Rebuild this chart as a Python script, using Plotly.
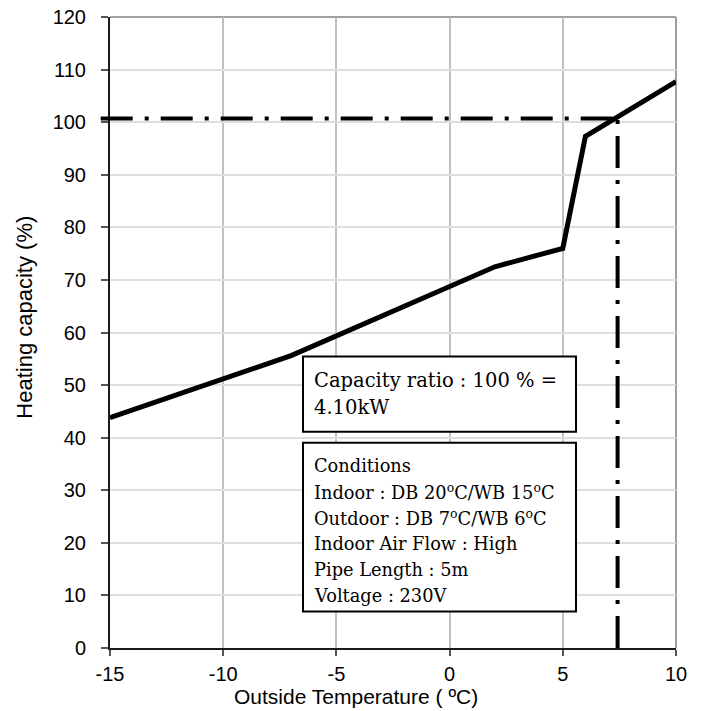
import plotly.graph_objects as go

# ---- data ----
TEMPS = [-15, -7, 2, 5, 6, 10]
CAPS = [43.8, 55.6, 72.5, 76.0, 97.3, 107.7]
REF_TEMP = 7.42
REF_CAP = 100.7
X_TICKS = [-15, -10, -5, 0, 5, 10]
Y_TICKS = [0, 10, 20, 30, 40, 50, 60, 70, 80, 90, 100, 110, 120]
BOX1_LINES = ["Capacity ratio : 100 % =", "4.10kW"]
BOX2_LINES = [
    "Conditions",
    "Indoor : DB 20<sup>o</sup>C/WB 15<sup>o</sup>C",
    "Outdoor : DB 7<sup>o</sup>C/WB 6<sup>o</sup>C",
    "Indoor Air Flow : High",
    "Pipe Length : 5m",
    "Voltage : 230V",
]
X_TITLE = "Outside Temperature ( ºC)"
Y_TITLE = "Heating capacity (%)"

# ---- layout geometry ----
W, H = 707, 711
L, R, T, B = 110, 676, 17.3, 648.3


def px(x):
    return (x - L) / (R - L)


def py(y):
    return (B - y) / (B - T)


DASHDOT = "32px,12px,4px,12px"
SERIF = "DejaVu Serif"
SANS = "Liberation Sans, Arial, sans-serif"

fig = go.Figure()

# vertical reference line (from the axis up to the curve)
fig.add_trace(go.Scatter(
    x=[REF_TEMP, REF_TEMP], y=[0, REF_CAP], mode="lines",
    line=dict(color="black", width=4, dash=DASHDOT),
    hoverinfo="skip", showlegend=False,
))

# main curve
fig.add_trace(go.Scatter(
    x=TEMPS, y=CAPS, mode="lines",
    line=dict(color="black", width=5),
    showlegend=False,
))

shapes = []
x_min, x_max = X_TICKS[0], X_TICKS[-1]
# horizontal reference line (starts slightly left of the y axis)
shapes.append(dict(
    type="line", xref="paper", yref="y",
    x0=px(L - 9.3), x1=(REF_TEMP - x_min) / (x_max - x_min),
    y0=REF_CAP, y1=REF_CAP,
    line=dict(color="black", width=4, dash=DASHDOT), layer="above",
))
# top and right gray frame
shapes.append(dict(type="line", xref="paper", yref="paper", x0=0, x1=1, y0=1, y1=1,
                   line=dict(color="#a0a0a0", width=2), layer="below"))
shapes.append(dict(type="line", xref="paper", yref="paper", x0=1, x1=1, y0=0, y1=1,
                   line=dict(color="#a0a0a0", width=2), layer="below"))
# text boxes
shapes.append(dict(type="rect", xref="paper", yref="paper",
                   x0=px(303), x1=px(576), y0=py(432), y1=py(356.7),
                   line=dict(color="black", width=2), fillcolor="white", layer="above"))
shapes.append(dict(type="rect", xref="paper", yref="paper",
                   x0=px(303), x1=px(576), y0=py(611.7), y1=py(443),
                   line=dict(color="black", width=2), fillcolor="white", layer="above"))

annotations = []
for i, t in enumerate(BOX1_LINES):
    annotations.append(dict(
        text=t, xref="paper", yref="paper", x=px(312), y=py(381 + 27 * i),
        xanchor="left", yanchor="middle", showarrow=False, align="left",
        font=dict(family=SERIF, size=19.5, color="black"),
    ))
for i, t in enumerate(BOX2_LINES):
    annotations.append(dict(
        text=t, xref="paper", yref="paper", x=px(312), y=py(466 + 26 * i),
        xanchor="left", yanchor="middle", showarrow=False, align="left",
        font=dict(family=SERIF, size=17.8, color="black"),
    ))
# axis titles
annotations.append(dict(
    text=X_TITLE, xref="paper", yref="paper", x=px(356), y=py(697),
    xanchor="center", yanchor="middle", showarrow=False,
    font=dict(family=SANS, size=21, color="black"),
))
annotations.append(dict(
    text=Y_TITLE, xref="paper", yref="paper", x=px(25), y=py(318),
    xanchor="center", yanchor="middle", showarrow=False, textangle=-90,
    font=dict(family=SANS, size=22, color="black"),
))

fig.update_layout(
    width=W, height=H,
    margin=dict(l=L, r=W - R, t=T, b=H - B, pad=0, autoexpand=False),
    paper_bgcolor="white", plot_bgcolor="white",
    showlegend=False,
    shapes=shapes, annotations=annotations,
    font=dict(family=SANS, color="black"),
    xaxis=dict(
        range=[x_min, x_max], tickvals=X_TICKS, ticktext=[str(v) for v in X_TICKS],
        showgrid=True, gridcolor="#c0c0c0", gridwidth=2,
        zeroline=False,
        showline=True, linecolor="#1a1a1a", linewidth=2,
        ticks="outside", ticklen=6, tickwidth=1.5, tickcolor="#555",
        tickfont=dict(family=SANS, size=20, color="black"),
        ticklabelstandoff=1,
    ),
    yaxis=dict(
        range=[Y_TICKS[0], Y_TICKS[-1]], tickvals=Y_TICKS, ticktext=[str(v) for v in Y_TICKS],
        showgrid=True, gridcolor="#dedede", gridwidth=1.5,
        zeroline=False,
        showline=True, linecolor="#1a1a1a", linewidth=2,
        ticks="outside", ticklen=7, tickwidth=1.5, tickcolor="#555",
        tickfont=dict(family=SANS, size=20, color="black"),
        ticklabelstandoff=11,
    ),
)

fig.write_html(
    "out.html",
    config={"displayModeBar": False},
    post_script="document.body.style.margin='0';document.body.style.padding='0';"
                "document.body.style.overflow='hidden';",
)
